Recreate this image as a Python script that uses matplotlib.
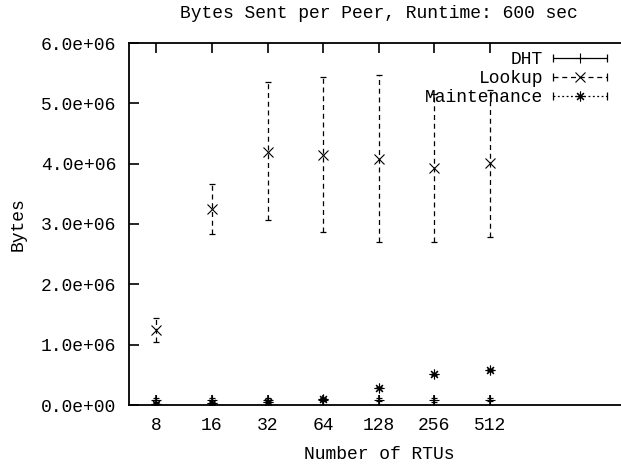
import matplotlib
matplotlib.use('Agg')
import matplotlib.pyplot as plt
import numpy as np
from matplotlib.container import ErrorbarContainer
from matplotlib.legend_handler import HandlerErrorbar
from matplotlib.ticker import FormatStrFormatter

# Данные (байты, в единицах 1e6)
rtus = ['8', '16', '32', '64', '128', '256', '512']

dht_mean = [0.08, 0.08, 0.08, 0.09, 0.09, 0.08, 0.09]
dht_low = [0.05, 0.05, 0.05, 0.06, 0.07, 0.05, 0.07]
dht_high = [0.11, 0.11, 0.11, 0.11, 0.11, 0.11, 0.11]

lookup_mean = [1.24, 3.25, 4.20, 4.14, 4.08, 3.93, 4.01]
lookup_low = [1.05, 2.84, 3.06, 2.86, 2.70, 2.70, 2.79]
lookup_high = [1.44, 3.67, 5.35, 5.43, 5.47, 5.15, 5.22]

maint_mean = [0.02, 0.03, 0.05, 0.10, 0.29, 0.51, 0.58]
maint_low = [0.01, 0.02, 0.04, 0.09, 0.28, 0.50, 0.57]
maint_high = [0.03, 0.04, 0.06, 0.11, 0.30, 0.52, 0.59]

SCALE = 1e6
FS = 13

plt.rcParams['font.family'] = ['Liberation Mono', 'DejaVu Sans Mono']
plt.rcParams['font.size'] = FS

fig = plt.figure(figsize=(6.21, 4.68), dpi=100)
ax = fig.add_axes([128.5 / 621, (468 - 405) / 468, 500.5 / 621, 362 / 468])

x = np.arange(len(rtus))
asterisk = (8, 2, 0)

series = [
    ('DHT', dht_mean, dht_low, dht_high, '+', '-'),
    ('Lookup', lookup_mean, lookup_low, lookup_high, 'x', (0, (4, 3))),
    ('Maintenance', maint_mean, maint_low, maint_high, asterisk, (0, (1.5, 2))),
]

proxies = []
for name, mean, low, high, mk, ls in series:
    m = np.array(mean) * SCALE
    err = [m - np.array(low) * SCALE, np.array(high) * SCALE - m]
    eb = ax.errorbar(x, m, yerr=err, fmt='none', ecolor='black',
                     elinewidth=0.9, capsize=2.5, capthick=0.9)
    eb[2][0].set_linestyle(ls)
    ax.plot(x, m, linestyle='none', marker=mk, color='black',
            markersize=7, markeredgewidth=0.8)
    # образец для легенды (горизонтальный отрезок с засечками)
    p = ax.errorbar([np.nan], [np.nan], xerr=[[1.0], [1.0]], fmt='none',
                    ecolor='black', elinewidth=0.9, capsize=3, capthick=0.9)
    p[2][0].set_linestyle(ls)
    pm, = ax.plot([np.nan], [np.nan], linestyle='none', marker=mk, color='black',
                  markersize=7, markeredgewidth=0.8)
    proxies.append(ErrorbarContainer((pm, p[1], p[2]), has_xerr=True, has_yerr=False, label=name))

ax.set_xlim(-0.5, 8.5)
ax.set_ylim(0, 6e6)
ax.set_xticks(x)
ax.set_xticklabels(rtus)
ax.set_yticks(np.arange(0, 6.1e6, 1e6))
ax.yaxis.set_major_formatter(FormatStrFormatter('%.1e'))

ax.tick_params(direction='in', length=7, width=1.2, top=True, right=False, pad=9)
for s in ['left', 'top', 'bottom']:
    ax.spines[s].set_linewidth(1.3)
ax.spines['right'].set_visible(False)

ax.set_title('Bytes Sent per Peer, Runtime: 600 sec', fontsize=FS, pad=18)
ax.set_xlabel('Number of RTUs', fontsize=FS, labelpad=8)
ax.set_ylabel('Bytes', fontsize=FS, labelpad=10)

leg = ax.legend(handles=proxies, labels=[s[0] for s in series], loc='upper right',
                bbox_to_anchor=(0.958, 0.978), frameon=False, markerfirst=False,
                handlelength=3.1, handletextpad=0.5, labelspacing=0.12,
                borderpad=0, borderaxespad=0, fontsize=FS,
                handler_map={ErrorbarContainer: HandlerErrorbar(xerr_size=1.5)})

fig.savefig('out.png', dpi=100)
